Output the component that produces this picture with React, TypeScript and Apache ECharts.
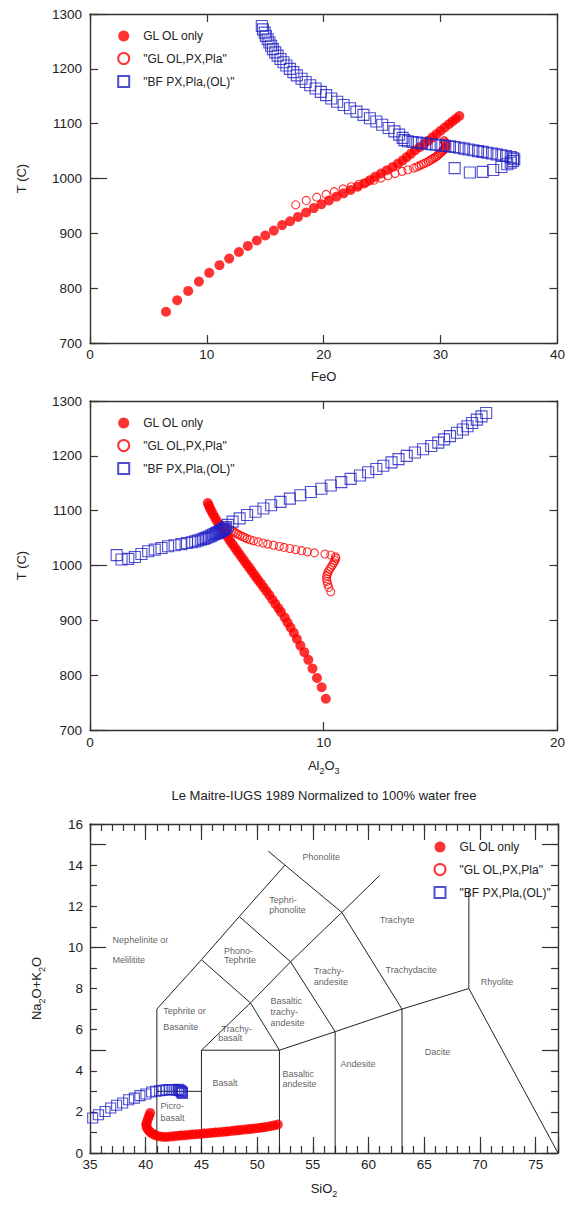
import React, { useEffect, useRef } from 'react';
import * as echarts from 'echarts';

const seriesNames = ['GL OL only', '"GL OL,PX,Pla"', '"BF PX,Pla,(OL)"'];

// ---- GL OL only (filled red circles) ----
const tempA = [757, 778, 795, 812, 828, 842, 854, 866, 877, 887, 896, 905, 915, 922, 930, 938, 946,
  953, 960, 967, 973, 979, 985, 991, 997, 1003, 1009, 1015, 1021, 1027, 1033, 1039, 1045, 1051, 1057,
  1063, 1069, 1075, 1081, 1087, 1093, 1099, 1104, 1109, 1114];
const feoA = [6.5, 7.46, 8.4, 9.32, 10.2, 11.08, 11.91, 12.74, 13.5, 14.27, 15.0, 15.73, 16.44, 17.12, 17.8, 18.49, 19.15,
  19.8, 20.45, 21.1, 21.7, 22.3, 22.9, 23.45, 23.95, 24.4, 24.9, 25.4, 25.9, 26.35, 26.75, 27.1, 27.45, 27.8, 28.2,
  28.6, 28.95, 29.3, 29.65, 30.0, 30.35, 30.7, 31.0, 31.3, 31.6];
const alA = [10.09, 9.91, 9.71, 9.52, 9.34, 9.17, 9.0, 8.85, 8.72, 8.58, 8.45, 8.33, 8.17, 8.06, 7.93, 7.8, 7.67,
  7.55, 7.43, 7.31, 7.2, 7.1, 7.0, 6.9, 6.8, 6.69, 6.59, 6.49, 6.39, 6.29, 6.19, 6.09, 5.99, 5.9, 5.8,
  5.7, 5.61, 5.52, 5.43, 5.35, 5.27, 5.2, 5.14, 5.09, 5.04];

// ---- "GL OL,PX,Pla" (open red circles) ----
const tempB = [952, 960, 966, 971, 976, 981, 985, 989, 993, 997, 1001, 1005, 1009, 1013, 1016,
  1019, 1021, 1023, 1025, 1027, 1029, 1031, 1033, 1035, 1037, 1039, 1041, 1043, 1045, 1047, 1049, 1051,
  1053, 1055, 1057, 1059, 1061, 1063, 1065, 1067, 1069];
const feoB = [17.6, 18.5, 19.4, 20.2, 20.9, 21.65, 22.35, 23.0, 23.65, 24.3, 24.9, 25.5, 26.1, 26.7, 27.2,
  27.7, 27.95, 28.15, 28.35, 28.55, 28.75, 28.95, 29.1, 29.25, 29.4, 29.55, 29.7, 29.8, 29.9, 30.0, 30.1, 30.2,
  30.3, 30.35, 30.4, 30.45, 30.45, 30.45, 30.4, 30.35, 30.3];
const alB = [10.3, 10.22, 10.17, 10.14, 10.12, 10.13, 10.16, 10.2, 10.25, 10.31, 10.37, 10.43, 10.48, 10.52, 10.5,
  10.3, 10.05, 9.6, 9.3, 9.05, 8.8, 8.55, 8.3, 8.1, 7.85, 7.6, 7.4, 7.2, 7.0, 6.85, 6.72, 6.62,
  6.52, 6.42, 6.33, 6.25, 6.17, 6.08, 5.98, 5.88, 5.78];

// ---- "BF PX,Pla,(OL)" (open blue squares) ----
const tempC = [1019, 1011, 1012, 1015.5, 1021, 1026, 1029, 1032, 1035, 1037, 1039, 1041, 1042.5, 1044, 1045.5,
  1047, 1048.5, 1050, 1051.5, 1053, 1054.5, 1056, 1057.5, 1058.5, 1059.5, 1060.5, 1061.5, 1062.5, 1063.5,
  1064.5, 1065.5, 1066.5, 1068, 1070,
  1074, 1080, 1086, 1092, 1098, 1104, 1110, 1116, 1122, 1128, 1134, 1140, 1146, 1152, 1158, 1164, 1170,
  1176, 1182, 1188, 1194, 1200, 1206, 1212, 1218, 1224, 1230, 1236, 1242, 1248, 1254, 1260, 1266, 1272, 1278];
const feoC = [31.2, 32.5, 33.6, 34.5, 35.2, 35.7, 36.0, 36.2, 36.3, 36.2, 36.0, 35.6, 35.2, 34.8, 34.4,
  34.0, 33.6, 33.2, 32.8, 32.4, 32.0, 31.6, 31.2, 30.8, 30.4, 30.0, 29.6, 29.2, 28.8,
  28.4, 28.0, 27.6, 27.2, 26.9,
  26.75, 26.45, 26.05, 25.55, 25.0, 24.5, 23.95, 23.4, 22.8, 22.25, 21.7, 21.15, 20.65, 20.2, 19.75, 19.3, 18.85,
  18.45, 18.1, 17.7, 17.4, 17.1, 16.8, 16.55, 16.3, 16.05, 15.85, 15.65, 15.5, 15.35, 15.2, 15.05, 14.95, 14.8, 14.7];
const alC = [1.14, 1.35, 1.64, 1.92, 2.2, 2.49, 2.77, 3.06, 3.34, 3.62, 3.91, 4.15, 4.35, 4.5, 4.62,
  4.74, 4.85, 4.94, 5.03, 5.11, 5.19, 5.26, 5.33, 5.39, 5.44, 5.49, 5.53, 5.57, 5.61,
  5.65, 5.69, 5.73, 5.77, 5.82,
  5.9, 6.1, 6.4, 6.72, 7.08, 7.42, 7.75, 8.15, 8.55, 9.0, 9.45, 9.9, 10.3, 10.75, 11.15, 11.55, 11.9,
  12.25, 12.55, 12.9, 13.2, 13.55, 13.9, 14.25, 14.6, 14.9, 15.15, 15.4, 15.7, 15.95, 16.15, 16.35, 16.55, 16.75, 16.95];

// ---- TAS diagram (SiO2 vs Na2O+K2O) ----
const sio2A = [40.4, 40.3, 40.2, 40.1, 40.05, 40.08, 40.2, 40.38, 40.6, 40.85, 41.12, 41.43, 41.75, 42.07, 42.4,
  42.75, 43.1, 43.45, 43.8, 44.15, 44.5, 44.85, 45.2, 45.55, 45.9, 46.25, 46.6, 46.95, 47.3, 47.65, 48.0,
  48.35, 48.7, 49.05, 49.4, 49.75, 50.1, 50.45, 50.8, 51.15, 51.5, 51.85];
const alkA = [1.95, 1.8, 1.65, 1.5, 1.38, 1.26, 1.14, 1.03, 0.94, 0.87, 0.82, 0.79, 0.78, 0.79, 0.81,
  0.83, 0.85, 0.86, 0.88, 0.9, 0.91, 0.93, 0.95, 0.96, 0.98, 1.0, 1.01, 1.03, 1.05, 1.07, 1.09,
  1.11, 1.13, 1.15, 1.17, 1.19, 1.21, 1.24, 1.27, 1.3, 1.34, 1.38];
const sio2B = [43.1, 44.15, 45.2, 46.25, 47.3, 48.35, 49.4, 50.45];
const alkB = [0.85, 0.9, 0.95, 1.0, 1.05, 1.11, 1.17, 1.24];
const sio2C = [35.24, 35.75, 36.35, 36.86, 37.39, 37.93, 38.47, 38.98, 39.48, 40.02, 40.53, 40.9, 41.25, 41.55,
  41.85, 42.1, 42.35, 42.6, 42.8, 43.0, 43.15, 43.25, 43.3, 43.25, 43.1, 42.95];
const alkC = [1.7, 1.86, 2.02, 2.19, 2.32, 2.43, 2.59, 2.67, 2.79, 2.87, 2.97, 3.0, 3.03, 3.05,
  3.07, 3.08, 3.09, 3.08, 3.06, 3.04, 3.0, 2.95, 2.9, 2.98, 3.05, 3.1];

const tasBoundaries: number[][][] = [
  [[41, 0], [41, 7]],
  [[41, 3], [45, 3]],
  [[45, 0], [45, 5], [52, 5], [52, 0]],
  [[57, 0], [57, 5.9]],
  [[63, 0], [63, 7]],
  [[52, 5], [57, 5.9], [63, 7], [69, 8], [77, 0]],
  [[69, 8], [69, 12.8]],
  [[41, 7], [45, 9.4], [48.4, 11.5], [52.5, 14]],
  [[45, 5], [49.4, 7.3], [53, 9.3], [57.6, 11.7], [61, 13.5]],
  [[45, 9.4], [49.4, 7.3], [52, 5]],
  [[48.4, 11.5], [53, 9.3], [57, 5.9]],
  [[51, 14.68], [52.5, 14], [57.6, 11.7], [63, 7]],
];

const tasLabelText = ['Phonolite', 'Tephri-', 'phonolite', 'Trachyte', 'Nephelinite or', 'Melilitite',
  'Phono-', 'Tephrite', 'Trachy-', 'andesite', 'Trachydacite', 'Rhyolite', 'Tephrite or', 'Basanite',
  'Basaltic', 'trachy-', 'andesite', 'Trachy-', 'basalt', 'Basalt', 'Basaltic', 'andesite',
  'Picro-', 'basalt', 'Andesite', 'Dacite'];
const tasLabelX = [54.07, 51.08, 51.08, 61.0, 37.03, 37.03, 47.02, 47.02, 55.09, 55.09, 61.52, 70.07, 41.58, 41.58,
  51.2, 51.2, 51.2, 46.81, 46.51, 46.0, 52.28, 52.28, 41.33, 41.33, 57.48, 65.05];
const tasLabelY = [14.38, 12.32, 11.83, 11.35, 10.37, 9.37, 9.81, 9.37, 8.83, 8.32, 8.88, 8.32, 6.89, 6.13,
  7.37, 6.86, 6.32, 6.03, 5.59, 3.4, 3.86, 3.37, 2.3, 1.7, 4.34, 4.9];

const tasTitle = 'Le Maitre-IUGS 1989 Normalized to 100% water free';

const FONT = "'Liberation Sans', Arial, Helvetica, sans-serif";
const AXIS_COLOR = '#333';
const TEXT_COLOR = '#222';
const RED = '#ff0000';
const BLUE = '#2222c4';

const zip = (xs: number[], ys: number[]) => xs.map((x, i) => [x, ys[i]]);

const richStyles = {
  n: { fontSize: 13, fontFamily: FONT, color: TEXT_COLOR, lineHeight: 20 },
  s: { fontSize: 9, fontFamily: FONT, color: TEXT_COLOR, lineHeight: 9, verticalAlign: 'bottom' },
};

type AxOpt = {
  gridIndex: number; min: number; max: number; interval: number; position: string; tickLen: number;
  showLabels?: boolean; showLine?: boolean; labelMargin?: number; formatter?: any;
  name?: string; nameGap?: number;
};

const plainNumber = (v: number) => String(v);

const mkAxis = (o: AxOpt) => ({
  type: 'value',
  gridIndex: o.gridIndex,
  min: o.min,
  max: o.max,
  interval: o.interval,
  position: o.position,
  axisLine: { show: o.showLine !== false, onZero: false, lineStyle: { color: AXIS_COLOR, width: 1.4 } },
  axisTick: { show: o.tickLen > 0, inside: true, length: o.tickLen, lineStyle: { color: AXIS_COLOR, width: 1.2 } },
  axisLabel: {
    show: !!o.showLabels, margin: o.labelMargin ?? 6, color: TEXT_COLOR, fontSize: 13.5, fontFamily: FONT,
    formatter: o.formatter || plainNumber,
  },
  splitLine: { show: false },
  ...(o.name ? { name: o.name, nameLocation: 'middle', nameGap: o.nameGap, nameTextStyle: { rich: richStyles } } : {}),
});

const mkScatter = (name: string, data: number[][], xi: number, yi: number, kind: string, size: number) => ({
  type: 'scatter',
  name,
  xAxisIndex: xi,
  yAxisIndex: yi,
  data,
  symbol: kind === 'square' ? 'rect' : 'circle',
  symbolSize: size,
  itemStyle: kind === 'filled'
    ? { color: RED }
    : { color: 'transparent', borderColor: kind === 'square' ? BLUE : RED, borderWidth: 1.1 },
  emphasis: { disabled: true },
  silent: true,
  z: 3,
});

const mkLegend = (left: number, top: number) => ({
  orient: 'vertical',
  left,
  top,
  padding: 0,
  itemWidth: 11,
  itemHeight: 11,
  itemGap: 10,
  selectedMode: false,
  data: seriesNames,
  textStyle: { fontSize: 12, color: TEXT_COLOR, fontFamily: FONT, padding: [0, 0, 0, 9] },
});

const buildOption = () => {
  const xAxis = [
    // chart 1 (FeO)
    mkAxis({ gridIndex: 0, min: 0, max: 40, interval: 10, position: 'bottom', tickLen: 8, showLabels: true, labelMargin: 4, name: '{n|FeO}', nameGap: 23 }),
    mkAxis({ gridIndex: 0, min: 0, max: 40, interval: 10, position: 'top', tickLen: 8 }),
    // chart 2 (Al2O3)
    mkAxis({ gridIndex: 1, min: 0, max: 20, interval: 10, position: 'bottom', tickLen: 8, showLabels: true, labelMargin: 5, name: '{n|Al}{s|2}{n|O}{s|3}', nameGap: 25 }),
    mkAxis({ gridIndex: 1, min: 0, max: 20, interval: 10, position: 'top', tickLen: 8 }),
    // chart 3 (SiO2)
    mkAxis({ gridIndex: 2, min: 35, max: 77, interval: 5, position: 'bottom', tickLen: 16, showLabels: true, labelMargin: 4,
      formatter: (v: number) => (v % 5 === 0 ? String(v) : ''), name: '{n|SiO}{s|2}', nameGap: 25 }),
    mkAxis({ gridIndex: 2, min: 35, max: 77, interval: 1, position: 'bottom', tickLen: 7, showLine: false }),
    mkAxis({ gridIndex: 2, min: 35, max: 77, interval: 5, position: 'top', tickLen: 16 }),
    mkAxis({ gridIndex: 2, min: 35, max: 77, interval: 1, position: 'top', tickLen: 7, showLine: false }),
  ];
  const yAxis = [
    // chart 1
    mkAxis({ gridIndex: 0, min: 700, max: 1300, interval: 100, position: 'left', tickLen: 8, showLabels: true, labelMargin: 8, name: '{n|T (C)}', nameGap: 59 }),
    mkAxis({ gridIndex: 0, min: 700, max: 1300, interval: 100, position: 'right', tickLen: 8 }),
    mkAxis({ gridIndex: 0, min: 700, max: 1300, interval: 300, position: 'left', tickLen: 17, showLine: false }),
    // chart 2
    mkAxis({ gridIndex: 1, min: 700, max: 1300, interval: 100, position: 'left', tickLen: 8, showLabels: true, labelMargin: 8, name: '{n|T (C)}', nameGap: 59 }),
    mkAxis({ gridIndex: 1, min: 700, max: 1300, interval: 100, position: 'right', tickLen: 8 }),
    mkAxis({ gridIndex: 1, min: 700, max: 1300, interval: 300, position: 'left', tickLen: 17, showLine: false }),
    // chart 3
    mkAxis({ gridIndex: 2, min: 0, max: 16, interval: 2, position: 'left', tickLen: 0, showLabels: true, labelMargin: 7, name: '{n|Na}{s|2}{n|O+K}{s|2}{n|O}', nameGap: 44 }),
    mkAxis({ gridIndex: 2, min: 0, max: 16, interval: 1, position: 'left', tickLen: 7, showLine: false }),
    mkAxis({ gridIndex: 2, min: 0, max: 16, interval: 5, position: 'left', tickLen: 16, showLine: false }),
    mkAxis({ gridIndex: 2, min: 0, max: 16, interval: 1, position: 'right', tickLen: 7 }),
    mkAxis({ gridIndex: 2, min: 0, max: 16, interval: 5, position: 'right', tickLen: 16, showLine: false }),
  ];

  const series: any[] = [
    // chart 1: FeO vs T
    mkScatter(seriesNames[0], zip(feoA, tempA), 0, 0, 'filled', 10),
    mkScatter(seriesNames[1], zip(feoB, tempB), 0, 0, 'open', 8),
    mkScatter(seriesNames[2], zip(feoC, tempC), 0, 0, 'square', 11),
    // chart 2: Al2O3 vs T
    mkScatter(seriesNames[0], zip(alA, tempA), 2, 3, 'filled', 10),
    mkScatter(seriesNames[1], zip(alB, tempB), 2, 3, 'open', 8),
    mkScatter(seriesNames[2], zip(alC, tempC), 2, 3, 'square', 11),
  ];
  // TAS boundaries
  tasBoundaries.forEach((pts, i) => {
    series.push({
      type: 'line', name: 'tas-boundary-' + i, xAxisIndex: 4, yAxisIndex: 6, data: pts,
      symbol: 'none', silent: true, z: 1, animation: false,
      lineStyle: { color: '#222', width: 1 }, emphasis: { disabled: true },
    });
  });
  series.push({
    type: 'scatter', name: 'tas-labels', xAxisIndex: 4, yAxisIndex: 6, silent: true, z: 1,
    symbolSize: 0, itemStyle: { color: 'transparent' },
    data: tasLabelText.map((t, i) => ({ value: [tasLabelX[i], tasLabelY[i]], name: t })),
    label: { show: true, position: 'right', distance: 0, formatter: '{b}', fontSize: 9, color: '#333', fontFamily: FONT },
    emphasis: { disabled: true },
  });
  series.push(
    mkScatter(seriesNames[0], zip(sio2A, alkA), 4, 6, 'filled', 10),
    mkScatter(seriesNames[1], zip(sio2B, alkB), 4, 6, 'open', 8),
    mkScatter(seriesNames[2], zip(sio2C, alkC), 4, 6, 'square', 10),
  );

  return {
    animation: false,
    backgroundColor: '#fff',
    textStyle: { fontFamily: FONT },
    grid: [
      { left: 90, top: 14, width: 468, height: 329 },
      { left: 90, top: 401, width: 469, height: 329 },
      { left: 90, top: 824, width: 468, height: 329 },
    ],
    legend: [mkLegend(117.2, 30), mkLegend(117.2, 417), mkLegend(433.5, 841)],
    xAxis,
    yAxis,
    series,
    graphic: [
      {
        type: 'text', x: 324, y: 795, silent: true,
        style: { text: tasTitle, align: 'center', verticalAlign: 'middle', fontSize: 13, fontFamily: FONT, fill: TEXT_COLOR },
      },
    ],
  };
};

export default function App() {
  const ref = useRef<HTMLDivElement>(null);
  useEffect(() => {
    if (!ref.current) return;
    const chart = echarts.init(ref.current, null, { renderer: 'svg' });
    chart.setOption(buildOption() as any);
    return () => chart.dispose();
  }, []);
  return (
    <div
      ref={ref}
      style={{ position: 'absolute', left: 0, top: 0, width: 568, height: 1205, background: '#fff' }}
    />
  );
}
